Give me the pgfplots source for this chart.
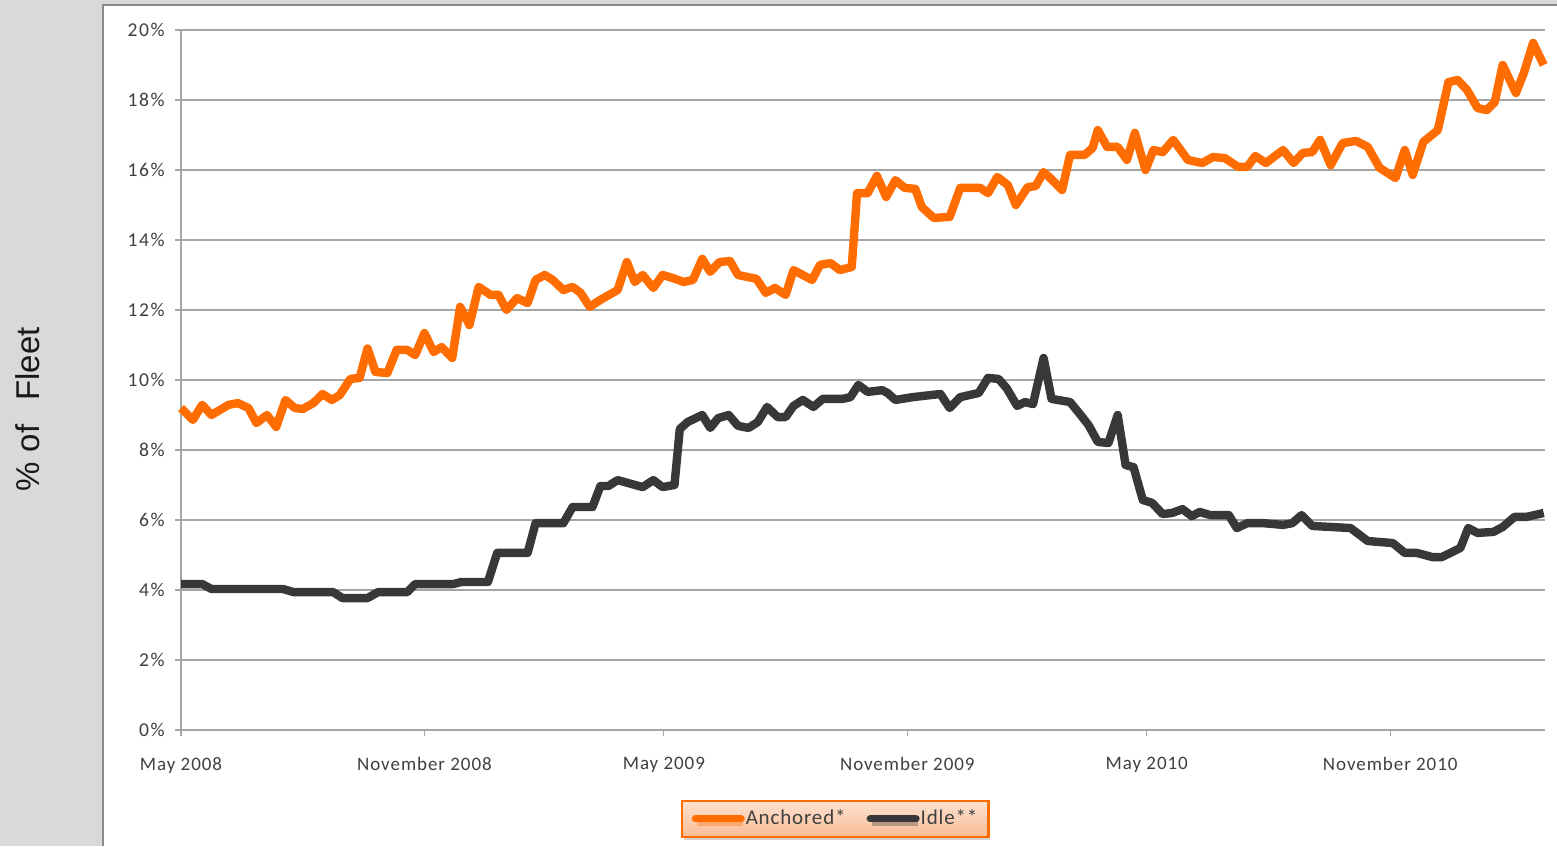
\documentclass[border=0pt]{standalone}
\usepackage{pgfplots}
\pgfplotsset{compat=1.18}
\usepackage{fontspec}
\setmainfont{Carlito}
\newfontfamily\arialfont{Liberation Sans}
\newfontfamily\tickfontx[LetterSpace=5]{Carlito}
\newfontfamily\tickfonty[LetterSpace=8]{Carlito}
\newfontfamily\legfont[LetterSpace=4]{Carlito}
\usetikzlibrary{shadows}
\definecolor{bggray}{RGB}{217,217,217}
\definecolor{framegray}{RGB}{140,140,140}
\definecolor{gridgray}{RGB}{165,165,165}
\definecolor{anch}{RGB}{255,108,0}
\definecolor{idle}{RGB}{56,56,56}
\definecolor{txt}{RGB}{64,64,64}
\definecolor{legtop}{RGB}{253,226,208}
\definecolor{legbot}{RGB}{249,188,150}
\begin{document}
\begin{tikzpicture}[x=0.5pt,y=0.5pt]
\useasboundingbox (0,0) rectangle (1557,846);
\fill[bggray] (0,0) rectangle (1557,846);
\fill[white] (103,0) rectangle (1557,841);
\draw[framegray, line width=1pt] (103,0) -- (103,841) -- (1557,841);
\node[rotate=90, text=black!90, font=\arialfont\fontsize{16.5}{19}\selectfont] at (28,436.5) {\%\hspace{5pt}of\hspace{12pt}Fleet};
\begin{axis}[
  at={(90.5pt,58pt)}, anchor=south west,
  scale only axis, width=682pt, height=350pt,
  xmin=0, xmax=1031, ymin=0, ymax=20,
  axis x line*=bottom, axis y line*=left,
  axis line style={gridgray, line width=0.6pt},
  every tick/.style={gridgray, line width=0.6pt},
  tick align=outside, major tick length=3pt,
  ymajorgrids, grid style={gridgray, line width=0.6pt},
  ytick={0,2,4,6,8,10,12,14,16,18,20},
  yticklabels={0\%,2\%,4\%,6\%,8\%,10\%,12\%,14\%,16\%,18\%,20\%},
  xtick={0,184,365,549,730,914},
  xticklabels={May 2008,November 2008,May 2009,November 2009,May 2010,November 2010},
  tick label style={text=txt},
  yticklabel style={font=\tickfonty\fontsize{9.8}{11}\selectfont, inner sep=0pt, xshift=-5pt},
  xticklabel style={font=\tickfontx\fontsize{9.5}{11}\selectfont, inner sep=0pt, yshift=-10.5pt},
  clip=false,
  legend columns=2,
  legend style={at={(axis description cs:0.4795,-0.127)}, anchor=center,
    draw=anch, line width=1.2pt, top color=legtop, bottom color=legbot,
    drop shadow={opacity=0.35, shadow xshift=1pt, shadow yshift=-1.5pt},
    font=\legfont\fontsize{10.5}{12}\selectfont, text=txt,
    inner xsep=5pt, inner ysep=2.5pt,
    nodes={inner xsep=0.5pt},
    /tikz/every even column/.append style={column sep=10pt}},
  legend image code/.code={\draw[#1, line width=3.5pt, line cap=round] (0pt,0pt) -- (23pt,0pt);},
]
\addplot[anch, line width=4.2pt, line join=round] coordinates {
(0,9.2)(9,8.86)(16,9.29)(23,9.0)(36,9.29)(43,9.34)(51,9.2)(57,8.77)(65,9.0)(72,8.66)
(79,9.43)(86,9.2)(92,9.17)(100,9.34)(107,9.6)(114,9.43)(120,9.57)(128,10.03)(135,10.06)
(141,10.9)(147,10.23)(156,10.2)(163,10.86)(171,10.86)(177,10.71)(184,11.34)(191,10.8)
(197,10.94)(205,10.63)(211,12.09)(218,11.57)(225,12.66)(234,12.43)(240,12.43)(246,12.0)
(254,12.34)(262,12.2)(268,12.86)(275,13.0)(281,12.86)(289,12.57)(296,12.66)(302,12.49)
(309,12.09)(317,12.29)(330,12.57)(337,13.37)(343,12.8)(349,13.0)(357,12.63)(364,13.0)
(372,12.91)(380,12.8)(387,12.86)(394,13.46)(400,13.09)(407,13.37)(415,13.4)(421,13.0)
(435,12.89)(442,12.49)(449,12.63)(457,12.43)(463,13.14)(477,12.86)(483,13.29)(491,13.34)
(498,13.14)(507,13.23)(511,15.34)(519,15.34)(526,15.83)(533,15.23)(540,15.71)(547,15.49)
(555,15.46)(560,14.94)(569,14.63)(581,14.66)(589,15.49)(604,15.49)(610,15.34)(617,15.8)
(625,15.57)(631,15.0)(640,15.51)(646,15.54)(652,15.94)(657,15.77)(666,15.43)(672,16.43)
(683,16.43)(689,16.63)(693,17.14)(700,16.66)(708,16.66)(715,16.29)(721,17.06)(729,16.0)
(735,16.57)(742,16.51)(750,16.86)(761,16.29)(768,16.23)(772,16.2)(780,16.37)(789,16.34)
(799,16.09)(806,16.09)(812,16.4)(820,16.2)(833,16.57)(841,16.2)(848,16.49)(855,16.51)
(861,16.86)(869,16.14)(878,16.77)(888,16.83)(897,16.66)(906,16.06)(918,15.77)(925,16.57)
(931,15.86)(939,16.8)(950,17.14)(958,18.51)(965,18.57)(972,18.29)(980,17.77)(987,17.71)
(993,17.94)(999,19.0)(1009,18.2)(1015,18.77)(1022,19.63)(1030,19.0)
};
\addlegendentry{Anchored*}
\addplot[idle, line width=4.2pt, line join=round] coordinates {
(0,4.17)(16,4.17)(23,4.03)(77,4.03)(85,3.94)(115,3.94)(122,3.77)(141,3.77)(149,3.94)
(171,3.94)(177,4.17)(206,4.17)(212,4.23)(232,4.23)(239,5.06)(262,5.06)(268,5.91)(289,5.91)
(296,6.37)(311,6.37)(317,6.97)(323,6.97)(330,7.14)(349,6.94)(357,7.14)(364,6.94)(373,7.0)
(377,8.6)(383,8.8)(394,9.0)(400,8.63)(406,8.91)(414,9.0)(421,8.69)(429,8.63)(436,8.8)
(443,9.23)(451,8.94)(457,8.94)(463,9.26)(470,9.43)(478,9.23)(485,9.46)(500,9.46)(506,9.51)
(512,9.86)(519,9.66)(530,9.71)(534,9.63)(540,9.43)(553,9.51)(574,9.6)(581,9.2)(589,9.51)
(603,9.63)(610,10.06)(618,10.03)(624,9.77)(632,9.26)(638,9.37)(644,9.31)(652,10.63)
(658,9.46)(672,9.37)(680,9.0)(686,8.71)(693,8.23)(701,8.2)(708,9.0)(714,7.57)(720,7.51)
(727,6.57)(734,6.49)(742,6.17)(749,6.2)(757,6.31)(764,6.11)(770,6.23)(778,6.14)(792,6.14)
(798,5.77)(806,5.91)(818,5.91)(833,5.86)(840,5.91)(847,6.14)(855,5.83)(884,5.77)(897,5.4)
(916,5.34)(925,5.06)(934,5.06)(946,4.94)(953,4.94)(967,5.2)(973,5.77)(980,5.63)(992,5.66)
(999,5.8)(1008,6.09)(1017,6.09)(1030,6.2)
};
\addlegendentry{Idle**}
\end{axis}
\end{tikzpicture}
\end{document}
